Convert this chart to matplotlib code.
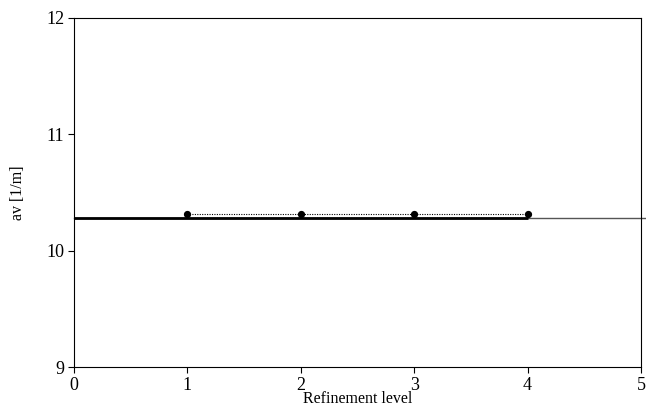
import matplotlib
matplotlib.use("Agg")
import matplotlib.pyplot as plt

plt.rcParams['font.family'] = ['Liberation Serif', 'DejaVu Serif']

levels = [1, 2, 3, 4]
av_values = [10.315, 10.315, 10.315, 10.315]
reference_av = 10.28

fig = plt.figure(figsize=(6.46, 4.08), dpi=100)
ax = fig.add_axes([74 / 646, 1 - 367 / 408, (641 - 74) / 646, (367 - 18) / 408])

# reference level across the whole plot (runs past the right frame)
ax.plot([0, 5.05], [reference_av, reference_av], color='#555555', lw=1.0,
        clip_on=False, zorder=2)
ax.plot([0, levels[-1]], [reference_av, reference_av], color='black', lw=2.0,
        solid_capstyle='butt', zorder=3)

ax.plot(levels, av_values, color='black', lw=0.8, linestyle=(0, (1, 1.2)),
        marker='o', markersize=4.2, zorder=4)

ax.set_xlim(0, 5)
ax.set_ylim(9, 12)
ax.set_xticks([0, 1, 2, 3, 4, 5])
ax.set_yticks([9, 10, 11, 12])
ax.tick_params(direction='out', length=4, width=0.8, labelsize=13, pad=3)
for s in ax.spines.values():
    s.set_linewidth(0.8)

ax.set_xlabel('Refinement level', fontsize=11.5)
ax.set_ylabel('av [1/m]', fontsize=11.5)
ax.xaxis.set_label_coords(0.5, -0.068)
ax.yaxis.set_label_coords(-0.085, 0.5)

fig.savefig('out.png', dpi=100)
